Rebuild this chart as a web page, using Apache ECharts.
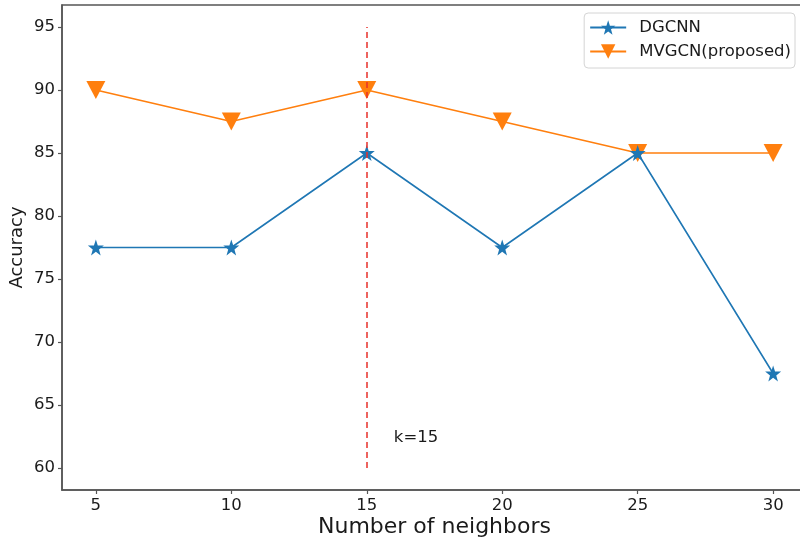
<!DOCTYPE html>
<html>
<head>
<meta charset="utf-8">
<script src="https://cdn.jsdelivr.net/npm/echarts@6/dist/echarts.min.js"></script>
<style>
  html, body { margin: 0; padding: 0; background: #fff; }
  #chart { width: 800px; height: 540px; }
</style>
</head>
<body>
<div id="chart"></div>
<script>
// Accuracy vs. number of neighbors k
const neighbors = [5, 10, 15, 20, 25, 30];
const dgcnn = [77.5, 77.5, 85, 77.5, 85, 67.5];
const mvgcn = [90, 87.5, 90, 87.5, 85, 85];
const xTicks = [5, 10, 15, 20, 25, 30];
const yTicks = [60, 65, 70, 75, 80, 85, 90, 95];
const chosenK = 15;
const markerRange = [60, 95];

const FONT = 'DejaVu Sans';
const AXIS_COLOR = '#555';
const TEXT_COLOR = '#1a1a1a';

const chart = echarts.init(document.getElementById('chart'), null, { renderer: 'canvas' });

chart.setOption({
  animation: false,
  textStyle: { fontFamily: FONT },
  grid: {
    left: 62, right: -7, top: 5, bottom: 50,
    containLabel: false,
    outerBoundsMode: 'none',
    show: true, borderColor: AXIS_COLOR, borderWidth: 1.5
  },
  legend: {
    orient: 'vertical',
    right: 5,
    top: 13,
    padding: [6, 4, 8, 5],
    itemGap: 7,
    itemWidth: 36,
    itemHeight: 18,
    backgroundColor: '#fff',
    borderColor: '#d4d4d4',
    borderWidth: 1,
    borderRadius: 4,
    textStyle: { fontFamily: FONT, fontSize: 16.5, color: TEXT_COLOR, padding: [0, 0, 0, 8] },
    data: ['DGCNN', 'MVGCN(proposed)']
  },
  xAxis: {
    type: 'value',
    min: 3.75,
    max: 31.25,
    name: 'Number of neighbors',
    nameLocation: 'middle',
    nameGap: 26,
    nameMoveOverlap: false,
    nameTextStyle: { fontFamily: FONT, fontSize: 22, color: TEXT_COLOR },
    axisLine: { show: true, lineStyle: { color: AXIS_COLOR, width: 1.5 } },
    axisTick: { show: true, customValues: xTicks, length: 4, lineStyle: { color: AXIS_COLOR, width: 1.2 } },
    axisLabel: { customValues: xTicks, fontFamily: FONT, fontSize: 16.5, color: TEXT_COLOR, margin: 7 },
    splitLine: { show: false }
  },
  yAxis: {
    type: 'value',
    min: 58.25,
    max: 96.75,
    name: 'Accuracy',
    nameLocation: 'middle',
    nameGap: 36,
    nameMoveOverlap: false,
    nameTextStyle: { fontFamily: FONT, fontSize: 18, color: TEXT_COLOR },
    axisLine: { show: true, lineStyle: { color: AXIS_COLOR, width: 1.5 } },
    axisTick: { show: true, customValues: yTicks, length: 4, lineStyle: { color: AXIS_COLOR, width: 1.2 } },
    axisLabel: { customValues: yTicks, fontFamily: FONT, fontSize: 16.5, color: TEXT_COLOR, margin: 7 },
    splitLine: { show: false }
  },
  series: [
    {
      name: 'DGCNN',
      type: 'line',
      data: neighbors.map((k, i) => [k, dgcnn[i]]),
      color: '#1f77b4',
      lineStyle: { width: 1.6 },
      symbol: 'path://M50,0 L61.8,35.1 L98.9,35.5 L69.1,57.7 L79.4,93.1 L50,72 L20.6,93.1 L30.9,57.7 L1.1,35.5 L38.2,35.1 Z',
      symbolSize: 16,
      showAllSymbol: true,
      itemStyle: { color: '#1f77b4' },
      z: 3,
      markLine: {
        silent: true,
        symbol: 'none',
        label: { show: false },
        lineStyle: { color: '#e8312a', type: [6, 4], width: 1.5 },
        data: [[{ coord: [chosenK, markerRange[0]] }, { coord: [chosenK, markerRange[1]] }]]
      },
      markPoint: {
        silent: true,
        symbol: 'circle',
        symbolSize: 0,
        data: [{
          coord: [chosenK + 1, 62.4],
          label: {
            show: true,
            position: 'right',
            distance: 0,
            formatter: 'k=' + chosenK,
            fontFamily: FONT,
            fontSize: 16.5,
            color: TEXT_COLOR
          }
        }]
      }
    },
    {
      name: 'MVGCN(proposed)',
      type: 'line',
      data: neighbors.map((k, i) => [k, mvgcn[i]]),
      color: '#ff7f0e',
      lineStyle: { width: 1.6 },
      symbol: 'path://M0,0 L100,0 L50,100 Z',
      symbolSize: [19, 18],
      showAllSymbol: true,
      itemStyle: { color: '#ff7f0e' },
      z: 2
    }
  ]
});
</script>
</body>
</html>
